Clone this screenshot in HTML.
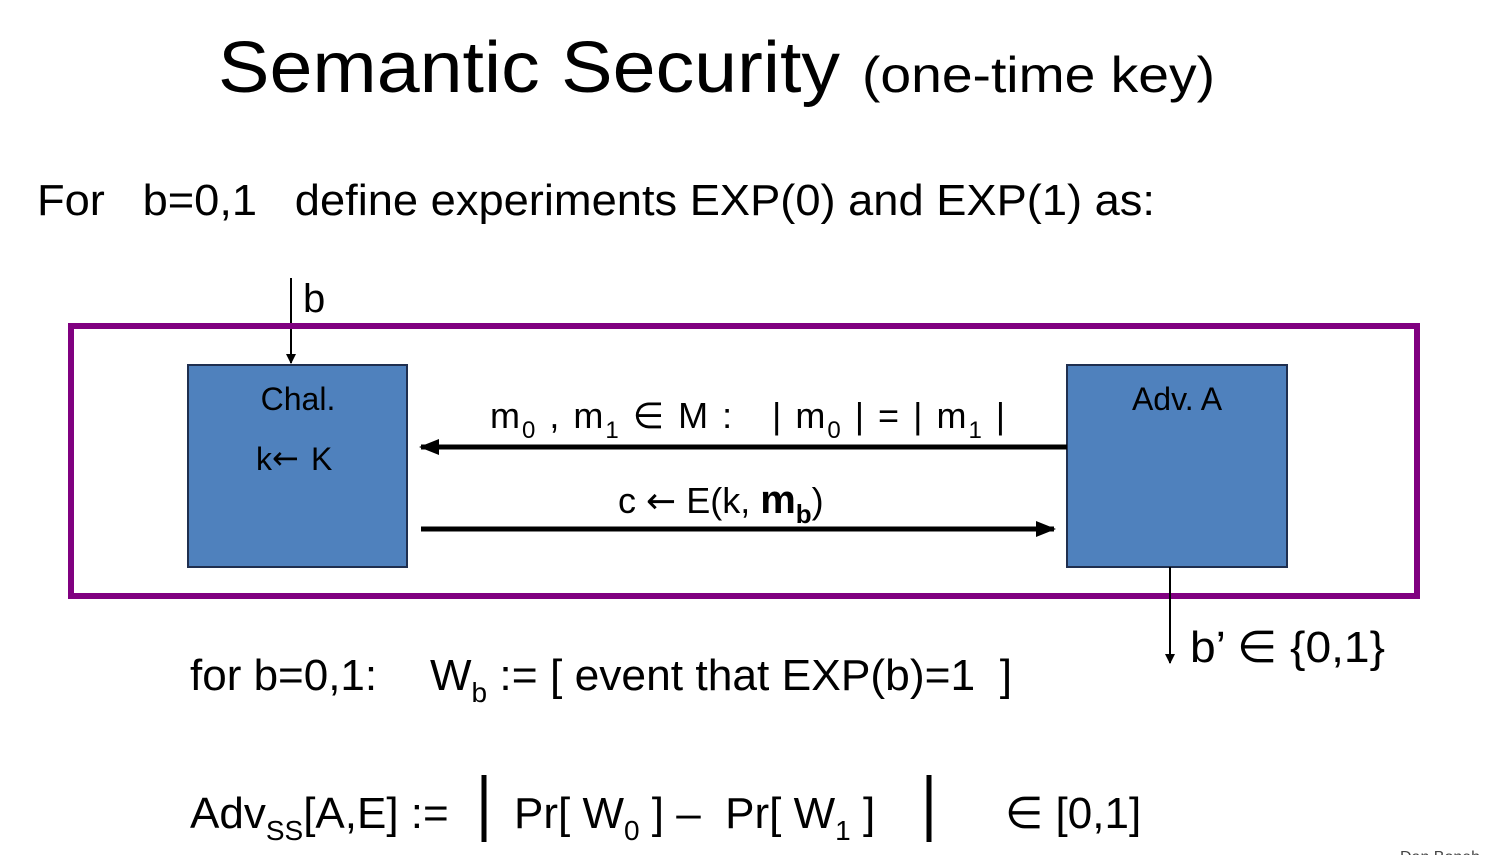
<!DOCTYPE html>
<html><head><meta charset="utf-8"><style>
html,body{margin:0;padding:0;background:#fff;}
svg{display:block;font-family:"Liberation Sans","DejaVu Sans",sans-serif;}
</style></head><body>
<svg width="1491" height="855" viewBox="0 0 1491 855" xmlns="http://www.w3.org/2000/svg">
<defs>
<marker id="ah" markerWidth="10" markerHeight="10" refX="9" refY="5" orient="auto" markerUnits="userSpaceOnUse"><path d="M0,0 L10,5 L0,10 z" fill="#000"/></marker>
<marker id="ahb" markerWidth="20" markerHeight="16" refX="18" refY="8" orient="auto" markerUnits="userSpaceOnUse"><path d="M0,0 L20,8 L0,16 z" fill="#000"/></marker>
</defs>
<g>
<text x="218" y="92" font-size="72" textLength="622" lengthAdjust="spacingAndGlyphs">Semantic Security</text>
<text x="862" y="92" font-size="50" textLength="353" lengthAdjust="spacingAndGlyphs">(one-time key)</text>
</g>
<text x="37" y="215" font-size="44" textLength="1118" lengthAdjust="spacingAndGlyphs" xml:space="preserve">For   b=0,1   define experiments EXP(0) and EXP(1) as:</text>

<line x1="291" y1="278" x2="291" y2="363" stroke="#000" stroke-width="2" marker-end="url(#ah)"/>
<text x="303" y="312" font-size="40">b</text>

<rect x="71" y="326" width="1346" height="270" fill="none" stroke="#800080" stroke-width="6"/>

<g>
<rect x="188" y="365" width="219" height="202" fill="#4f81bd" stroke="#1f2f4f" stroke-width="2"/>
<text x="298" y="410" font-size="32" text-anchor="middle">Chal.</text>
<text x="256" y="470" font-size="32">k</text>
<text x="272" y="469" font-size="32" font-family="DejaVu Sans, sans-serif">←</text>
<text x="311" y="470" font-size="32">K</text>
</g>
<g>
<rect x="1067" y="365" width="220" height="202" fill="#4f81bd" stroke="#1f2f4f" stroke-width="2"/>
<text x="1177" y="410" font-size="32" text-anchor="middle">Adv. A</text>
</g>

<line x1="1067" y1="447" x2="421" y2="447" stroke="#000" stroke-width="5" marker-end="url(#ahb)"/>
<text font-size="36" y="428" letter-spacing="2">
<tspan x="490">m</tspan><tspan font-size="24" dy="10">0</tspan><tspan dy="-10"> , m</tspan><tspan font-size="24" dy="10">1</tspan><tspan dy="-10">  ∈ M :</tspan>
<tspan x="772">| m</tspan><tspan font-size="24" dy="10">0</tspan><tspan dy="-10"> |  =  | m</tspan><tspan font-size="24" dy="10">1</tspan><tspan dy="-10"> |</tspan>
</text>

<line x1="421" y1="529" x2="1054" y2="529" stroke="#000" stroke-width="5" marker-end="url(#ahb)"/>
<text font-size="36" y="513">
<tspan x="618">c </tspan><tspan font-family="DejaVu Sans, sans-serif">←</tspan><tspan> E(k, </tspan><tspan font-weight="bold" font-size="40">m</tspan><tspan font-weight="bold" font-size="26" dy="10">b</tspan><tspan dy="-10">)</tspan>
</text>

<line x1="1170" y1="567" x2="1170" y2="663" stroke="#000" stroke-width="2" marker-end="url(#ah)"/>
<text x="1190" y="662" font-size="44" textLength="195" lengthAdjust="spacingAndGlyphs">b’ ∈ {0,1}</text>

<text font-size="44" y="690" xml:space="preserve"><tspan x="190">for b=0,1:</tspan><tspan x="430">W</tspan><tspan font-size="28" dy="12">b</tspan><tspan dy="-12" textLength="525" lengthAdjust="spacingAndGlyphs"> := [ event that EXP(b)=1  ]</tspan></text>

<g>
<text font-size="44" y="828"><tspan x="190">Adv</tspan><tspan font-size="28" dy="12">SS</tspan><tspan dy="-12">[A,E] :=</tspan></text>
<line x1="484" y1="775" x2="484" y2="842" stroke="#000" stroke-width="5"/>
<text font-size="44" y="828" xml:space="preserve"><tspan x="514">Pr[ W</tspan><tspan font-size="28" dy="12">0</tspan><tspan dy="-12"> ] –  Pr[ W</tspan><tspan font-size="28" dy="12">1</tspan><tspan dy="-12"> ]</tspan></text>
<line x1="929" y1="775" x2="929" y2="842" stroke="#000" stroke-width="5"/>
<text font-size="44" x="1005" y="828">∈ [0,1]</text>
</g>
<text x="1400" y="862" font-size="16" fill="#444">Dan Boneh</text>
</svg>
</body></html>
